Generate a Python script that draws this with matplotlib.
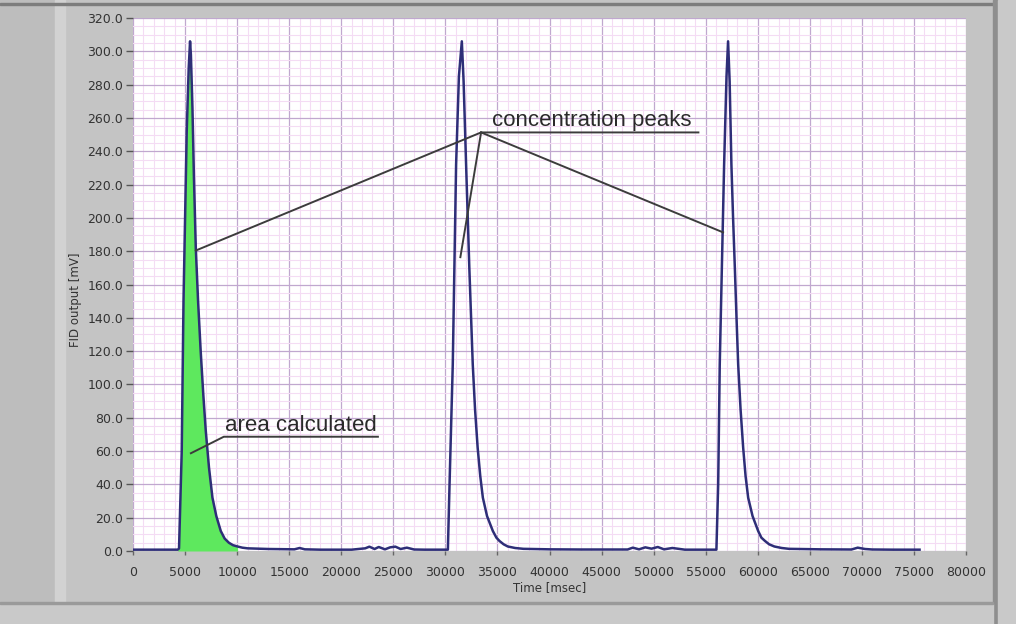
import numpy as np
import matplotlib
matplotlib.use("Agg")
import matplotlib.pyplot as plt
from matplotlib.patches import Rectangle
from matplotlib.ticker import MultipleLocator, FormatStrFormatter

# FID trace (time in msec, output in mV)
time_ms = [0, 2000, 4300,
           # peak 1
           4420, 4680, 4850, 5160, 5350, 5480, 5560, 5710, 5850, 6030, 6250, 6500,
           6750, 6990, 7300, 7630, 8000, 8430, 8800, 9200, 9600, 10040, 10500, 11000,
           13000, 15500, 16000, 16500, 18000, 21000, 22300, 22700, 23200, 23600,
           24200, 24700, 25200, 25700, 26300, 27000, 28000, 30240,
           # peak 2
           30400, 30710, 31030, 31300, 31580, 31750, 31990, 32150, 32300, 32470,
           32630, 32850, 33100, 33350, 33600, 34000, 34560, 34900, 35200, 35600,
           36000, 36700, 37500,
           40000, 43000, 47500, 48000, 48600, 49200, 49800, 50400, 51000, 51800,
           53000, 56030,
           # peak 3
           56200, 56350, 56770, 57000, 57150, 57300, 57470, 57630, 57800, 57960,
           58120, 58350, 58600, 58830, 59080, 59500, 60040, 60350, 60700, 61100,
           61600, 62300, 63000,
           66000, 69000, 69600, 70300, 71000, 73000, 75540]
fid_mv = [0.8, 0.8, 0.8,
          1.5, 60, 150, 252, 290, 306, 298, 266, 225, 182, 150, 120,
          94, 72, 50, 32, 21, 12, 7.5, 5, 3.5, 2.7, 2.0, 1.6,
          1.2, 1.0, 1.8, 1.0, 0.8, 0.8, 1.6, 2.6, 1.2, 2.4,
          1.0, 2.2, 2.6, 1.2, 2.0, 0.9, 0.8, 0.8,
          40, 112, 232, 285, 306, 282, 232, 200, 170, 140,
          112, 85, 62, 45, 32, 21, 12, 8, 6, 4,
          2.7, 1.8, 1.3,
          1.0, 0.9, 0.9, 2.0, 1.0, 2.2, 1.4, 2.4, 1.0, 1.8,
          0.8, 0.8,
          40, 112, 232, 285, 306, 282, 232, 200, 170, 140,
          112, 85, 62, 45, 32, 21, 12, 8, 6, 4,
          2.7, 1.8, 1.3,
          1.0, 0.9, 2.0, 1.2, 0.9, 0.8, 0.8]

# the shaded peak (area calculated)
area_start = 4300
area_end = 10040

x_ticks = list(range(0, 80001, 5000))
y_ticks = list(range(0, 321, 20))

fig = plt.figure(figsize=(10.16, 6.24), dpi=100, facecolor="#c4c4c4")

# window frame bits around the LabVIEW graph
fig.patches.append(Rectangle((0, 0), 55/1016, 1, transform=fig.transFigure,
                             color="#bdbdbd", zorder=0))
fig.patches.append(Rectangle((55/1016, 0), 10/1016, 1, transform=fig.transFigure,
                             color="#d2d2d2", zorder=0))
fig.patches.append(Rectangle((0, 1-5/624), 1, 2/624, transform=fig.transFigure,
                             color="#7d7d7d", zorder=0))
fig.patches.append(Rectangle((993/1016, 0), 5/1016, 1, transform=fig.transFigure,
                             color="#8e8e8e", zorder=0))
fig.patches.append(Rectangle((998/1016, 0), 18/1016, 1, transform=fig.transFigure,
                             color="#c9c9c9", zorder=0))
fig.patches.append(Rectangle((0, 0), 993/1016, 20/624, transform=fig.transFigure,
                             color="#c9c9c9", zorder=0))
fig.patches.append(Rectangle((0, 20/624), 993/1016, 2/624, transform=fig.transFigure,
                             color="#9a9a9a", zorder=0))

ax = fig.add_axes([133/1016, 1-551/624, 833/1016, 533/624])
ax.set_facecolor("white")

ax.fill_between([t for t in time_ms if area_start <= t <= area_end],
                [v for t, v in zip(time_ms, fid_mv) if area_start <= t <= area_end],
                0, color="#5ee85e", zorder=2, lw=0)
ax.plot(time_ms, fid_mv, color="#2e2e78", lw=1.8, zorder=3)

ax.set_xlim(0, 80000)
ax.set_ylim(0, 320)
ax.set_xticks(x_ticks)
ax.set_yticks(y_ticks)
ax.xaxis.set_minor_locator(MultipleLocator(1000))
ax.yaxis.set_minor_locator(MultipleLocator(5))
ax.yaxis.set_major_formatter(FormatStrFormatter("%.1f"))

ax.grid(which="minor", color="#f4dcf4", lw=0.8, zorder=0)
ax.grid(which="major", color="#c0a8cf", lw=0.9, zorder=1)
ax.set_axisbelow(True)

for s in ax.spines.values():
    s.set_visible(False)

ax.tick_params(axis="y", which="major", direction="out", length=5, width=1,
               color="#555555", labelsize=9, labelcolor="#333333", pad=2)
ax.tick_params(axis="x", which="major", direction="out", length=3, width=1,
               color="#666666", labelsize=9, labelcolor="#333333", pad=8)
ax.tick_params(which="minor", length=0)

fig.text(550/1016, 1-588/624, "Time [msec]", ha="center", va="center",
         fontsize=8.5, color="#333333")
fig.text(75/1016, 1-300/624, "FID output [mV]", ha="center", va="center",
         rotation=90, fontsize=8.5, color="#333333")

# annotations
ann = "#3c3c3c"
vx, vy = 33430, 251.3
ax.plot([6030, vx, 54300], [180.4, vy, vy], color=ann, lw=1.4, zorder=4)
ax.plot([vx, 31440], [vy, 176.4], color=ann, lw=1.4, zorder=4)
ax.plot([vx, 56670], [vy, 191.3], color=ann, lw=1.4, zorder=4)
ax.text(34520, 255.3, "concentration peaks", fontsize=16, color="#2a2a2a",
        family="Liberation Sans", va="baseline", zorder=5)

ax.plot([5560, 8720, 23520], [58.7, 68.6, 68.6], color=ann, lw=1.4, zorder=4)
ax.text(8840, 71.9, "area calculated", fontsize=16, color="#2a2a2a",
        family="Liberation Sans", va="baseline", zorder=5)

fig.savefig("out.png", dpi=100, facecolor=fig.get_facecolor())
